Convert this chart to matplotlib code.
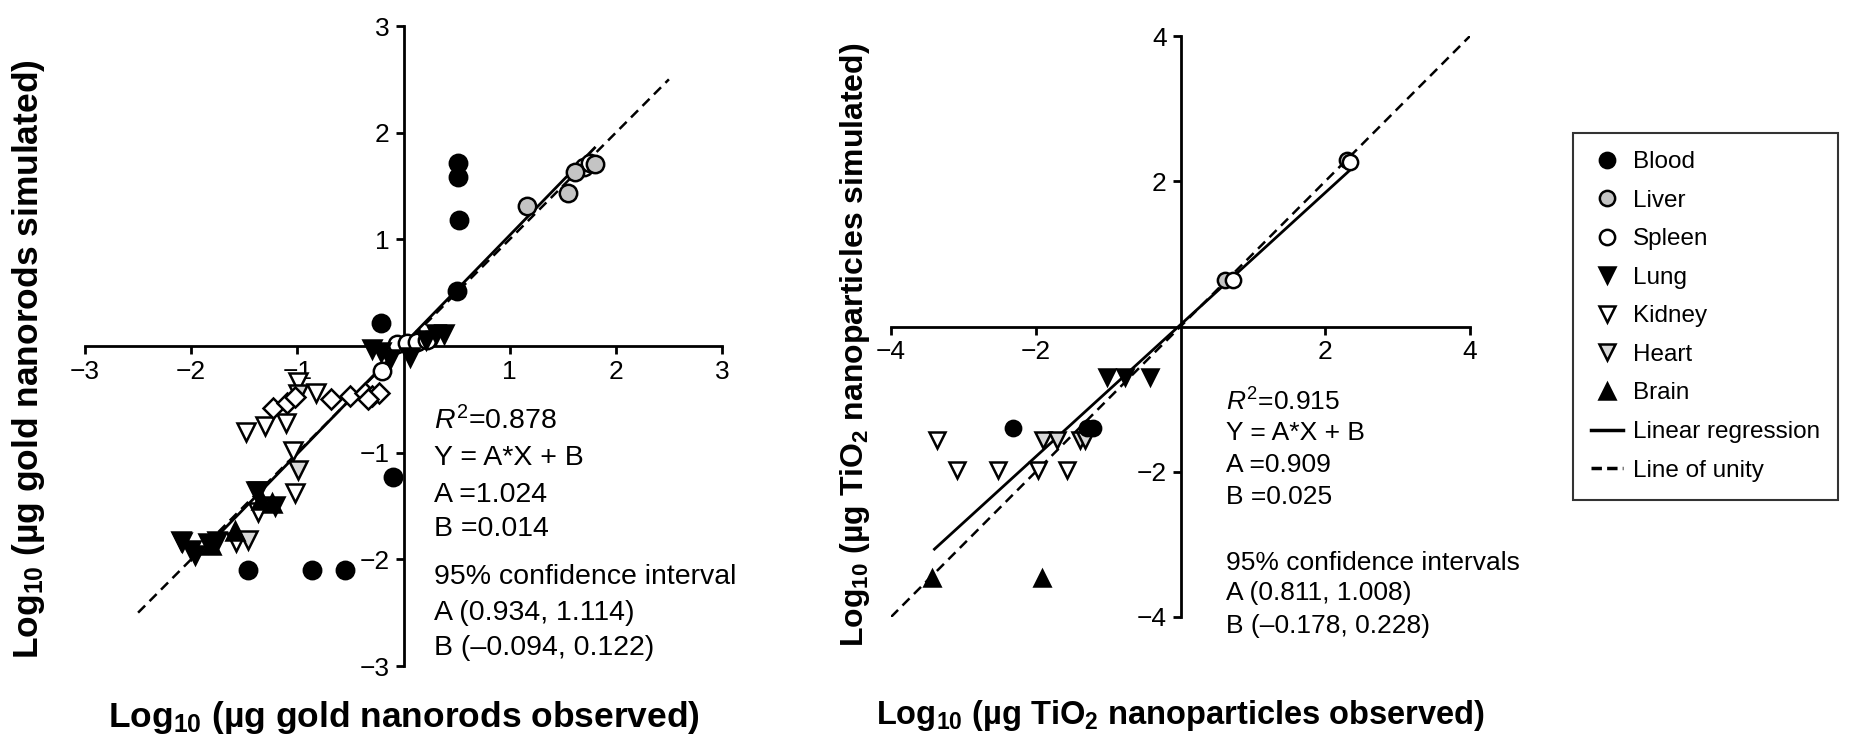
import matplotlib
matplotlib.use("Agg")
import matplotlib.pyplot as plt
from matplotlib.lines import Line2D
import numpy as np

plt.rcParams['font.family'] = ['Liberation Sans', 'DejaVu Sans']
plt.rcParams['mathtext.fontset'] = 'custom'
plt.rcParams['mathtext.rm'] = 'Liberation Sans'
plt.rcParams['mathtext.it'] = 'Liberation Sans:italic'
plt.rcParams['mathtext.bf'] = 'Liberation Sans:bold'

# ---------------- Data: gold nanorods (left) ----------------
gold_blood_x = [0.51, 0.51, 0.52, 0.50, -0.21, -0.10, -1.46, -0.86, -0.55]
gold_blood_y = [1.72, 1.58, 1.18, 0.52, 0.22, -1.23, -2.10, -2.10, -2.10]
gold_liver_x = [1.16, 1.55, 1.62, 1.80]
gold_liver_y = [1.31, 1.43, 1.63, 1.71]
gold_spleen_x = [1.70, 1.76, -0.06, 0.03, 0.13, 0.22, -0.20]
gold_spleen_y = [1.68, 1.72, 0.02, 0.03, 0.04, 0.06, -0.23]
gold_lung_x = [-0.21, -0.13, 0.06, 0.21, 0.31, 0.38, -0.30, -2.09, -2.00, -1.96, -1.84, -1.76, -1.37, -1.21]
gold_lung_y = [-0.06, -0.12, -0.10, 0.06, 0.11, 0.11, -0.03, -1.84, -1.91, -1.96, -1.85, -1.83, -1.36, -1.50]
gold_kidney_x = [-1.48, -1.30, -1.11, -0.99, -0.82, -1.04, -1.02, -1.37, -1.58]
gold_kidney_y = [-0.81, -0.75, -0.72, -0.34, -0.44, -0.98, -1.38, -1.56, -1.84]
gold_heart_x = [-0.99, -0.99, -1.39, -1.46, -2.10]
gold_heart_y = [-0.45, -1.16, -1.36, -1.82, -1.83]
gold_brain_x = [-1.59, -1.24, -1.34, -1.81]
gold_brain_y = [-1.73, -1.47, -1.44, -1.87]
gold_other_x = [-1.23, -1.10, -1.02, -0.68, -0.50, -0.36, -0.30, -0.23, -0.33]
gold_other_y = [-0.58, -0.53, -0.48, -0.50, -0.47, -0.44, -0.47, -0.44, -0.50]
gold_A, gold_B = 1.024, 0.014
gold_fit_range = [-1.85, 1.80]
gold_unity_range = [-2.5, 2.5]
gold_stats = ["$R^2$=0.878", "Y = A*X + B", "A =1.024", "B =0.014",
              "95% confidence interval", "A (0.934, 1.114)", "B (\u20130.094, 0.122)"]

# ---------------- Data: TiO2 nanoparticles (right) ----------------
tio_blood_x = [-2.31, -1.29, -1.21]
tio_blood_y = [-1.40, -1.40, -1.40]
tio_liver_x = [0.62, 2.30]
tio_liver_y = [0.64, 2.29]
tio_spleen_x = [0.73, 2.34]
tio_spleen_y = [0.64, 2.27]
tio_lung_x = [-1.01, -0.76, -0.42]
tio_lung_y = [-0.69, -0.69, -0.69]
tio_kidney_x = [-3.36, -3.09, -2.52, -1.97, -1.57]
tio_kidney_y = [-1.56, -1.98, -1.98, -1.98, -1.98]
tio_heart_x = [-1.90, -1.71, -1.39, -1.32]
tio_heart_y = [-1.56, -1.56, -1.56, -1.56]
tio_brain_x = [-3.43, -1.91]
tio_brain_y = [-3.46, -3.46]
tio_A, tio_B = 0.909, 0.025
tio_fit_range = [-3.40, 2.35]
tio_unity_range = [-4.0, 4.0]
tio_stats = ["$R^2$=0.915", "Y = A*X + B", "A =0.909", "B =0.025",
             "95% confidence intervals", "A (0.811, 1.008)", "B (\u20130.178, 0.228)"]

legend_labels = ["Blood", "Liver", "Spleen", "Lung", "Kidney", "Heart", "Brain",
                 "Linear regression", "Line of unity"]

# ---------------- Styles ----------------
styles = {
    "Blood": dict(marker='o', mfc='black', mec='black'),
    "Liver": dict(marker='o', mfc='#c4c4c4', mec='black'),
    "Spleen": dict(marker='o', mfc='white', mec='black'),
    "Lung": dict(marker='v', mfc='black', mec='black'),
    "Kidney": dict(marker='v', mfc='white', mec='black'),
    "Heart": dict(marker='v', mfc='#d8d8d8', mec='black'),
    "Brain": dict(marker='^', mfc='black', mec='black'),
}

fig = plt.figure(figsize=(18.64, 7.40), dpi=100)
axL = fig.add_axes([85/1864, 74/740, 637/1864, 640/740])
axR = fig.add_axes([891/1864, 123/740, 579/1864, 581/740])


def style_axes(ax, lim, ticks):
    ax.set_xlim(-lim, lim)
    ax.set_ylim(-lim, lim)
    for s in ['top', 'right']:
        ax.spines[s].set_visible(False)
    ax.spines['left'].set_position(('data', 0))
    ax.spines['bottom'].set_position(('data', 0))
    for s in ['left', 'bottom']:
        ax.spines[s].set_linewidth(2.0)
    ax.set_xticks(ticks)
    ax.set_yticks(ticks)
    ax.tick_params(direction='out', length=6, width=2.0, labelsize=19, pad=4)
    ax.patch.set_alpha(0)


def draw_series(ax, data, A, B, fit_range, unity_range, ms):
    xs = np.array(unity_range)
    ax.plot(xs, xs, ls=(0, (4, 2.5)), color='black', lw=1.8, zorder=2)
    fx = np.array(fit_range)
    ax.plot(fx, A * fx + B, ls='-', color='black', lw=2.0, zorder=2)
    for name, (x, y) in data.items():
        ax.plot(x, y, ls='none', mew=1.8, ms=ms, zorder=3, **styles[name])


def draw_other(ax, x, y):
    ax.plot(x, y, ls='none', marker='D', mfc='white', mec='black', ms=10, mew=1.8, zorder=3)


style_axes(axL, 3, [-3, -2, -1, 1, 2, 3])
style_axes(axR, 4, [-4, -2, 2, 4])

draw_series(axL, {
    "Kidney": (gold_kidney_x, gold_kidney_y),
    "Heart": (gold_heart_x, gold_heart_y),
    "Spleen": (gold_spleen_x, gold_spleen_y),
    "Liver": (gold_liver_x, gold_liver_y),
    "Lung": (gold_lung_x, gold_lung_y),
    "Brain": (gold_brain_x, gold_brain_y),
    "Blood": (gold_blood_x, gold_blood_y),
}, gold_A, gold_B, gold_fit_range, gold_unity_range, 12.5)
draw_other(axL, gold_other_x, gold_other_y)

draw_series(axR, {
    "Kidney": (tio_kidney_x, tio_kidney_y),
    "Heart": (tio_heart_x, tio_heart_y),
    "Liver": (tio_liver_x, tio_liver_y),
    "Spleen": (tio_spleen_x, tio_spleen_y),
    "Lung": (tio_lung_x, tio_lung_y),
    "Brain": (tio_brain_x, tio_brain_y),
    "Blood": (tio_blood_x, tio_blood_y),
}, tio_A, tio_B, tio_fit_range, tio_unity_range, 11)

# Statistics text
gold_text_y = [-0.70, -1.05, -1.40, -1.72, -2.17, -2.50, -2.83]
for t, yy in zip(gold_stats, gold_text_y):
    axL.text(0.29, yy, t, fontsize=20.5, va='center', ha='left')
tio_text_y = [-1.04, -1.47, -1.91, -2.35, -3.26, -3.67, -4.12]
for t, yy in zip(tio_stats, tio_text_y):
    axR.text(0.63, yy, t, fontsize=19, va='center', ha='left', clip_on=False)

# Axis labels
axL.set_ylabel(r"Log$_\mathbf{10}$ (µg gold nanorods simulated)", fontsize=25.5, fontweight='bold')
axL.yaxis.set_label_coords(-0.060, 0.479)
axL.set_xlabel(r"Log$_\mathbf{10}$ (µg gold nanorods observed)", fontsize=25.5, fontweight='bold')
axL.xaxis.set_label_coords(0.5, -0.052)
axR.set_ylabel(r"Log$_\mathbf{10}$ (µg TiO$_\mathbf{2}$ nanoparticles simulated)", fontsize=23, fontweight='bold')
axR.yaxis.set_label_coords(-0.033, 0.468)
axR.set_xlabel(r"Log$_\mathbf{10}$ (µg TiO$_\mathbf{2}$ nanoparticles observed)", fontsize=23.5, fontweight='bold')
axR.xaxis.set_label_coords(0.5, -0.139)

# Legend
handles = []
for name in legend_labels[:7]:
    handles.append(Line2D([], [], ls='none', mew=1.8, ms=11, **styles[name]))
handles.append(Line2D([], [], ls='-', color='black', lw=2.5))
handles.append(Line2D([], [], ls=(0, (3, 1.5)), color='black', lw=2.5))
leg = fig.legend(handles, legend_labels, loc='upper left', bbox_to_anchor=(1573/1864, 607/740),
                 fontsize=17.5, frameon=True, fancybox=False, edgecolor='black',
                 labelspacing=0.68, handlelength=1.3, handletextpad=0.4, borderpad=0.75,
                 borderaxespad=0)
leg.get_frame().set_linewidth(1.5)

fig.savefig("out.png", dpi=100, facecolor='white')
